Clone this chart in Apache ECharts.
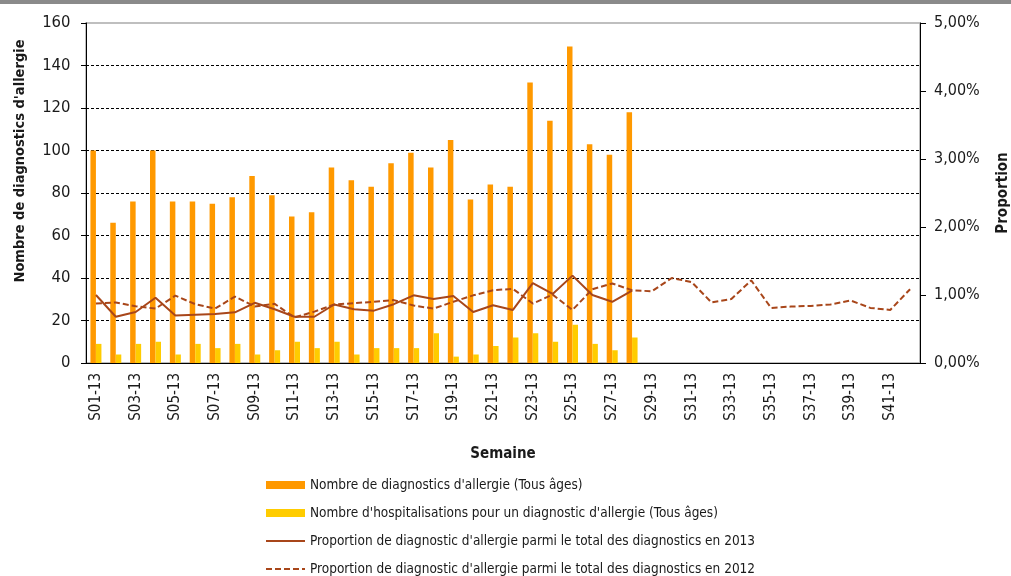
<!DOCTYPE html>
<html>
<head>
<meta charset="utf-8">
<script src="https://cdn.jsdelivr.net/npm/echarts@6/dist/echarts.min.js"></script>
<style>
html,body{margin:0;padding:0;background:#fff;}
#chart{width:1011px;height:576px;}
</style>
</head>
<body>
<div id="chart"></div>
<script>
// ---- Data ----
const weeks = ['S01-13','S02-13','S03-13','S04-13','S05-13','S06-13','S07-13','S08-13','S09-13','S10-13',
  'S11-13','S12-13','S13-13','S14-13','S15-13','S16-13','S17-13','S18-13','S19-13','S20-13',
  'S21-13','S22-13','S23-13','S24-13','S25-13','S26-13','S27-13','S28-13','S29-13','S30-13',
  'S31-13','S32-13','S33-13','S34-13','S35-13','S36-13','S37-13','S38-13','S39-13','S40-13',
  'S41-13','S42-13'];

const diagnostics = [100,66,76,100,76,76,75,78,88,79,69,71,92,86,83,94,99,92,105,77,84,83,132,114,149,103,98,118];
const hospitalisations = [9,4,9,10,4,9,7,9,4,6,10,7,10,4,7,7,7,14,3,4,8,12,14,10,18,9,6,12];
const proportion2013 = [1.00,0.68,0.75,0.96,0.70,0.71,0.72,0.745,0.885,0.79,0.68,0.68,0.86,0.79,0.77,0.865,0.995,0.94,0.985,0.75,0.85,0.78,1.175,1.015,1.285,1.00,0.90,1.065];
const proportion2012 = [0.875,0.89,0.835,0.80,0.99,0.865,0.80,0.977,0.83,0.87,0.67,0.755,0.86,0.88,0.90,0.925,0.845,0.80,0.90,0.995,1.07,1.09,0.875,1.005,0.78,1.085,1.17,1.07,1.055,1.25,1.19,0.89,0.94,1.215,0.81,0.83,0.84,0.86,0.92,0.81,0.78,1.085];

const seriesNames = [
  "Nombre de diagnostics d'allergie (Tous âges)",
  "Nombre d'hospitalisations pour un diagnostic d'allergie (Tous âges)",
  "Proportion de diagnostic d'allergie parmi le total des diagnostics en 2013",
  "Proportion de diagnostic d'allergie parmi le total des diagnostics en 2012"
];
const leftAxisTitle = "Nombre de diagnostics d'allergie";
const rightAxisTitle = "Proportion";
const xAxisTitle = "Semaine";

// ---- Chart ----
const FONT = '"Liberation Sans Narrow", "DejaVu Sans Condensed", "Noto Sans", sans-serif';
const TXT = '#1a1a1a';
const LINE = '#A8461A';
const hideSymbol = { color: 'rgba(0,0,0,0)', opacity: 0, borderWidth: 0 };

const chart = echarts.init(document.getElementById('chart'));
chart.setOption({
  animation: false,
  textStyle: { fontFamily: FONT, color: TXT },
  graphic: [{ type: 'rect', shape: { x: 0, y: 0, width: 1011, height: 4 }, style: { fill: '#8a8a8a' }, silent: true }],
  grid: { left: 86, right: 91, top: 23, bottom: 213, show: true, borderColor: '#aaaaaa', borderWidth: 1.5,
          containLabel: false, outerBoundsMode: 'none' },
  legend: {
    orient: 'vertical', left: 265, top: 477, height: 100, padding: 0,
    itemWidth: 39, itemHeight: 8, itemGap: 12,
    textStyle: { fontFamily: FONT, fontSize: 13.5, color: TXT, lineHeight: 16 },
    data: [
      { name: seriesNames[0], icon: 'rect' },
      { name: seriesNames[1], icon: 'rect' },
      { name: seriesNames[2], itemStyle: hideSymbol },
      { name: seriesNames[3], itemStyle: hideSymbol }
    ]
  },
  xAxis: {
    type: 'category', data: weeks, boundaryGap: true,
    name: xAxisTitle, nameLocation: 'middle', nameGap: 84,
    nameTextStyle: { fontFamily: FONT, fontWeight: 'bold', fontSize: 15, color: TXT },
    axisLine: { lineStyle: { color: '#000', width: 1 } },
    axisTick: { interval: 0, length: 5, lineStyle: { color: '#000' } },
    axisLabel: { interval: 1, rotate: 90, fontSize: 15, color: TXT, margin: 10, fontFamily: FONT },
    splitLine: { show: false }
  },
  yAxis: [
    {
      type: 'value', min: 0, max: 160, interval: 20, position: 'left',
      name: leftAxisTitle, nameLocation: 'middle', nameGap: 58,
      nameTextStyle: { fontFamily: FONT, fontWeight: 'bold', fontSize: 14.5, color: TXT, padding: [0, 0, 0, 64] },
      axisLine: { show: true, lineStyle: { color: '#000', width: 1 } },
      axisTick: { show: true, length: 5, lineStyle: { color: '#000' } },
      axisLabel: { fontSize: 16.5, color: TXT, margin: 15.5, fontFamily: FONT },
      splitLine: { show: true, showMaxLine: false, showMinLine: false, lineStyle: { color: '#000', width: 1, type: [3, 2] } }
    },
    {
      type: 'value', min: 0, max: 5, interval: 1, position: 'right',
      name: rightAxisTitle, nameLocation: 'middle', nameGap: 76,
      nameTextStyle: { fontFamily: FONT, fontWeight: 'bold', fontSize: 15, color: TXT },
      axisLine: { show: true, lineStyle: { color: '#000', width: 1 } },
      axisTick: { show: true, length: 6, lineStyle: { color: '#000' } },
      axisLabel: { fontSize: 16, color: TXT, margin: 14, fontFamily: FONT,
        formatter: v => v.toFixed(2).replace('.', ',') + '%' },
      splitLine: { show: false }
    }
  ],
  series: [
    { name: seriesNames[0], type: 'bar', data: diagnostics, barWidth: 5.5, barGap: '0%',
      itemStyle: { color: '#FF9900' } },
    { name: seriesNames[1], type: 'bar', data: hospitalisations, barWidth: 5.5, barGap: '0%',
      itemStyle: { color: '#FFCC00' } },
    { name: seriesNames[2], type: 'line', yAxisIndex: 1, data: proportion2013, symbol: 'none',
      lineStyle: { color: LINE, width: 2 }, itemStyle: { color: LINE }, z: 5 },
    { name: seriesNames[3], type: 'line', yAxisIndex: 1, data: proportion2012, symbol: 'none',
      lineStyle: { color: LINE, width: 2, type: [6, 3] }, itemStyle: { color: LINE }, z: 5 }
  ]
});
</script>
</body>
</html>
